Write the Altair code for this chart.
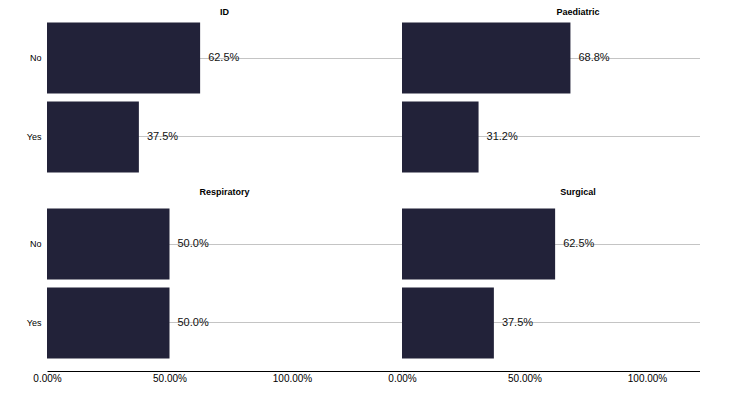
import altair as alt
import pandas as pd

answers = ["No", "Yes"]
panel_names = ["ID", "Paediatric", "Respiratory", "Surgical"]
id_vals = [0.625, 0.375]
paed_vals = [0.6875, 0.3125]
resp_vals = [0.5, 0.5]
surg_vals = [0.625, 0.375]
id_labels = ["62.5%", "37.5%"]
paed_labels = ["68.8%", "31.2%"]
resp_labels = ["50.0%", "50.0%"]
surg_labels = ["62.5%", "37.5%"]
x_ticks = [0, 0.5, 1.0]

BAR = "#222239"
PX_PER_UNIT = 245


def panel(name, vals, labs, left, bottom):
    df = pd.DataFrame({"answer": answers, "share": vals, "label": labs})
    w = 355 if left else 298
    dmax = w / PX_PER_UNIT
    if bottom:
        xaxis = alt.Axis(values=x_ticks, format=".2%", grid=False, domainColor="black",
                         ticks=False, labelFontSize=10, labelColor="black",
                         title=None, labelFlush=False, labelFont="Liberation Sans",
                         labelPadding=2)
    else:
        xaxis = None
    x = alt.X("share:Q", scale=alt.Scale(domain=[0, dmax], nice=False, zero=True), axis=xaxis)
    y = alt.Y("answer:N", sort=answers,
              scale=alt.Scale(paddingInner=0.1, paddingOuter=0.16),
              axis=alt.Axis(title=None, labels=left, ticks=False, domain=False, grid=True,
                            gridColor="#c4c4c4", gridWidth=1, labelFontSize=9, labelColor="black",
                            labelFont="Liberation Sans", labelPadding=6,
                            minExtent=39 if left else 0, maxExtent=39 if left else 0))
    bars = alt.Chart(df).mark_bar(color=BAR).encode(x=x, y=y)
    text = alt.Chart(df).mark_text(align="left", dx=8, fontSize=11, color="#111",
                                   font="Liberation Sans").encode(
        x="share:Q", y=alt.Y("answer:N", sort=answers), text="label:N")
    return alt.layer(bars, text).properties(
        width=w, height=175,
        title=alt.TitleParams(name, fontSize=9, fontWeight="bold", anchor="middle",
                              dx=0 if left else 27, offset=-8 if bottom else -14,
                              baseline="alphabetic", font="Liberation Sans",
                              color="black"))


p1 = panel(panel_names[0], id_vals, id_labels, True, False)
p2 = panel(panel_names[1], paed_vals, paed_labels, False, False)
p3 = panel(panel_names[2], resp_vals, resp_labels, True, True)
p4 = panel(panel_names[3], surg_vals, surg_labels, False, True)

chart = alt.vconcat(
    alt.hconcat(p1, p2, spacing=0, bounds="flush"),
    alt.hconcat(p3, p4, spacing=0, bounds="flush"),
    spacing=3,
).configure_view(stroke=None).properties(
    padding={"left": 0, "top": 0, "right": 0, "bottom": 0}
)

chart.save("out.html", embed_options={"renderer": "svg", "actions": False})
